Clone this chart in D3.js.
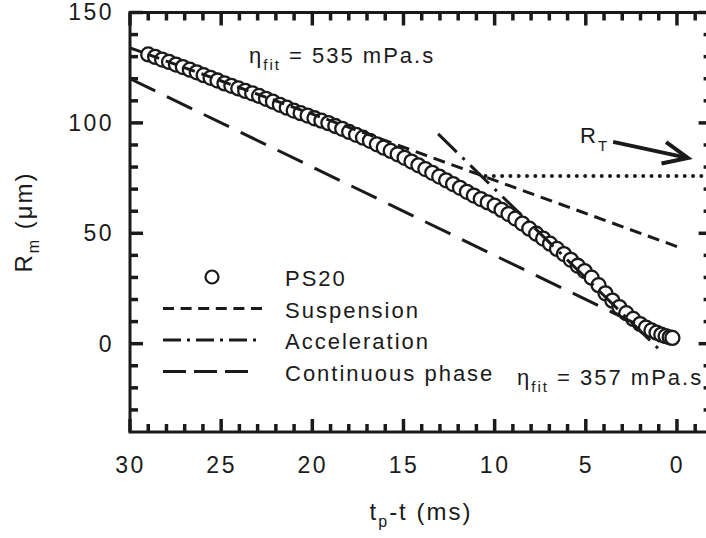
<!DOCTYPE html>
<html>
<head>
<meta charset="utf-8">
<script src="https://cdn.jsdelivr.net/npm/d3@7"></script>
<style>
  html, body { margin: 0; padding: 0; background: #fff; overflow: hidden; }
  svg text { font-family: Arial, "Liberation Sans", sans-serif; fill: #1a1a1a; }
</style>
</head>
<body>
<div id="chart"></div>
<script>
// measured radius of the drop vs time to pinch-off
var tpt = [29.00, 28.62, 28.24, 27.86, 27.48, 27.10, 26.72, 26.34, 25.96, 25.58,
           25.20, 24.82, 24.44, 24.06, 23.68, 23.30, 22.92, 22.54, 22.16, 21.78,
           21.40, 21.02, 20.64, 20.26, 19.88, 19.50, 19.12, 18.74, 18.36, 17.98,
           17.60, 17.22, 16.84, 16.46, 16.08, 15.70, 15.32, 14.94, 14.56, 14.18,
           13.80, 13.42, 13.04, 12.66, 12.28, 11.90, 11.52, 11.14, 10.76, 10.38,
           10.00, 9.62, 9.24, 8.86, 8.48, 8.10, 7.72, 7.34, 6.96, 6.58,
           6.20, 5.82, 5.44, 5.06, 4.68, 4.30, 3.92, 3.54, 3.16, 2.78,
           2.40, 2.02, 1.70, 1.40, 1.12, 0.86, 0.62, 0.40, 0.25];
var rm = [131.0, 129.9, 128.7, 127.6, 126.4, 125.3, 124.1, 122.9, 121.6, 120.4,
          119.2, 117.9, 116.8, 115.6, 114.5, 113.4, 112.2, 110.9, 109.6, 108.2,
          106.9, 105.6, 104.4, 103.3, 102.1, 101.0, 99.9, 98.6, 97.3, 95.9,
          94.6, 93.3, 91.9, 90.3, 88.8, 87.3, 85.8, 84.2, 82.5, 80.8,
          79.1, 77.4, 75.7, 74.0, 72.3, 70.6, 68.8, 67.1, 65.5, 64.0,
          62.5, 60.6, 58.7, 56.7, 54.4, 52.1, 49.8, 47.6, 45.3, 42.9,
          40.6, 38.0, 35.3, 32.9, 29.9, 26.5, 22.8, 19.5, 16.6, 13.8,
          11.2, 8.9, 7.3, 6.0, 5.0, 4.1, 3.4, 2.9, 2.6];

// fitted lines (end points)
var suspensionFit = [[30, 134], [0, 44]];
var accelerationFit = [[13.1, 95], [0.8, -4]];
var continuousFit = [[30, 120], [2.0, 8]];
var rT = 76;
var rTStart = 10.5;

var xTicks = [30, 25, 20, 15, 10, 5, 0];
var yTicks = [150, 100, 50, 0];
var xMinor = [29, 28, 27, 26, 24, 23, 22, 21, 19, 18, 17, 16, 14, 13, 12, 11, 9, 8, 7, 6, 4, 3, 2, 1, -1];
var yMinor = [140, 130, 120, 110, 90, 80, 70, 60, 40, 30, 20, 10, -10, -20, -30];

var legendLabels = ["PS20", "Suspension", "Acceleration", "Continuous phase"];
var legendDash = [null, "11,6.6", "18,6,3,6", "23,8"];
var fitDash = {suspension: "12,7", acceleration: "26,8,3,8", continuous: "28,13"};

var width = 706, height = 538;
var ink = "#1a1a1a";

var svg = d3.select("#chart")
  .append("svg")
  .attr("width", width)
  .attr("height", height)
  .style("display", "block");

var x = d3.scaleLinear().domain([30, -1.9]).range([130, 711.6]);
var y = d3.scaleLinear().domain([-40, 150]).range([432, 12.5]);
var x0 = x.range()[0], x1 = x.range()[1];
var y0 = y.range()[0], y1 = y.range()[1];

var line = d3.line()
  .x(function (d) { return x(d[0]); })
  .y(function (d) { return y(d[1]); });

// tick labels from the axis generators
function styleAxis(sel) {
  sel.select(".domain").remove();
  sel.selectAll(".tick line").remove();
  sel.attr("font-size", 23)
    .attr("font-family", "Arial, 'Liberation Sans', sans-serif")
    .style("letter-spacing", "2.5px");
  sel.selectAll(".tick text").attr("fill", ink);
}

svg.append("g").attr("transform", "translate(0," + y0 + ")")
  .call(d3.axisBottom(x).tickValues(xTicks).tickSize(0).tickPadding(25))
  .call(styleAxis);
svg.append("g").attr("transform", "translate(" + x0 + ",0)")
  .call(d3.axisLeft(y).tickValues(yTicks).tickSize(0).tickPadding(16))
  .call(styleAxis);

// data
var pts = tpt.map(function (t, i) { return [t, rm[i]]; });

svg.selectAll("circle.pt")
  .data(pts)
  .enter().append("circle")
  .attr("class", "pt")
  .attr("cx", function (d) { return x(d[0]); })
  .attr("cy", function (d) { return y(d[1]); })
  .attr("r", 7)
  .attr("fill", "#fff")
  .attr("stroke", ink)
  .attr("stroke-width", 2.3);

// fits drawn over the points
[[suspensionFit, fitDash.suspension],
 [accelerationFit, fitDash.acceleration],
 [continuousFit, fitDash.continuous]].forEach(function (f) {
  svg.append("path")
    .datum(f[0])
    .attr("d", line)
    .attr("fill", "none")
    .attr("stroke", ink)
    .attr("stroke-width", 3)
    .attr("stroke-dasharray", f[1]);
});

// R_T level
svg.append("line")
  .attr("x1", x(rTStart))
  .attr("y1", y(rT))
  .attr("x2", x1)
  .attr("y2", y(rT))
  .attr("stroke", ink)
  .attr("stroke-width", 4)
  .attr("stroke-linecap", "round")
  .attr("stroke-dasharray", "0,8.3");

// arrow to R_T
var a0 = [x(3.5), y(91.4)], a1 = [x(-0.6), y(84.1)];
var ang = Math.atan2(a1[1] - a0[1], a1[0] - a0[0]);
var hl = 27, hw = 0.42;
svg.append("line")
  .attr("x1", a0[0]).attr("y1", a0[1])
  .attr("x2", a1[0] - 3 * Math.cos(ang)).attr("y2", a1[1] - 3 * Math.sin(ang))
  .attr("stroke", ink)
  .attr("stroke-width", 4);
svg.append("path")
  .attr("d", "M" + (a1[0] - hl * Math.cos(ang - hw)) + "," + (a1[1] - hl * Math.sin(ang - hw)) +
    "L" + a1[0] + "," + a1[1] +
    "L" + (a1[0] - hl * Math.cos(ang + hw)) + "," + (a1[1] - hl * Math.sin(ang + hw)))
  .attr("fill", "none")
  .attr("stroke", ink)
  .attr("stroke-width", 4)
  .attr("stroke-linejoin", "miter");

var rtLabel = svg.append("text")
  .attr("x", 580).attr("y", 143)
  .attr("font-size", 22)
  .style("letter-spacing", "2px");
rtLabel.append("tspan").text("R");
rtLabel.append("tspan").attr("font-size", 15).attr("dy", 8).text("T");

// viscosity labels
function etaLabel(px, py, txt) {
  var t = svg.append("text")
    .attr("x", px).attr("y", py)
    .attr("font-size", 22)
    .style("letter-spacing", "2px");
  t.append("tspan").text("η");
  t.append("tspan").attr("font-size", 15).attr("dy", 7).text("fit");
  t.append("tspan").attr("dy", -7).text(" = " + txt);
}
etaLabel(249, 63, "535 mPa.s");
etaLabel(517, 385, "357 mPa.s");

// legend
var leg = svg.append("g");
legendLabels.forEach(function (lab, i) {
  var ly = 277 + i * 31.5;
  if (i === 0) {
    leg.append("circle")
      .attr("cx", 212).attr("cy", ly)
      .attr("r", 6.5)
      .attr("fill", "#fff")
      .attr("stroke", ink)
      .attr("stroke-width", 2.2);
  } else {
    leg.append("line")
      .attr("x1", 163).attr("x2", i === 3 ? 250 : 262)
      .attr("y1", ly).attr("y2", ly)
      .attr("stroke", ink)
      .attr("stroke-width", 3)
      .attr("stroke-dasharray", legendDash[i]);
  }
  leg.append("text")
    .attr("x", 285).attr("y", ly + 9)
    .attr("font-size", 22)
    .style("letter-spacing", "2px")
    .text(lab);
});

// axis titles
var xt = svg.append("text")
  .attr("x", 421).attr("y", 520)
  .attr("text-anchor", "middle")
  .attr("font-size", 24)
  .style("letter-spacing", "2px");
xt.append("tspan").text("t");
xt.append("tspan").attr("font-size", 16).attr("dy", 7).text("p");
xt.append("tspan").attr("dy", -7).text("-t (ms)");

var yt = svg.append("text")
  .attr("transform", "translate(32,222) rotate(-90)")
  .attr("text-anchor", "middle")
  .attr("font-size", 24)
  .style("letter-spacing", "2px");
yt.append("tspan").text("R");
yt.append("tspan").attr("font-size", 16).attr("dy", 7).text("m");
yt.append("tspan").attr("dy", -7).text(" (μm)");

// frame and inward tick marks on all four sides, on top
svg.append("rect")
  .attr("x", x0)
  .attr("y", y1)
  .attr("width", x1 - x0)
  .attr("height", y0 - y1)
  .attr("fill", "none")
  .attr("stroke", ink)
  .attr("stroke-width", 3);

var ticks = svg.append("g")
  .attr("stroke", ink)
  .attr("stroke-width", 3.5);

function xTickMarks(vals, len) {
  ticks.selectAll(null).data(vals).enter().append("line")
    .attr("x1", function (d) { return x(d); }).attr("x2", function (d) { return x(d); })
    .attr("y1", y0).attr("y2", y0 - len);
  ticks.selectAll(null).data(vals).enter().append("line")
    .attr("x1", function (d) { return x(d); }).attr("x2", function (d) { return x(d); })
    .attr("y1", y1).attr("y2", y1 + len);
}
function yTickMarks(vals, len) {
  ticks.selectAll(null).data(vals).enter().append("line")
    .attr("y1", function (d) { return y(d); }).attr("y2", function (d) { return y(d); })
    .attr("x1", x0).attr("x2", x0 + len);
  ticks.selectAll(null).data(vals).enter().append("line")
    .attr("y1", function (d) { return y(d); }).attr("y2", function (d) { return y(d); })
    .attr("x1", x1).attr("x2", x1 - len);
}
xTickMarks(xMinor, 8);
xTickMarks(xTicks, 13);
yTickMarks(yMinor, 8);
yTickMarks(yTicks, 13);
</script>
</body>
</html>
